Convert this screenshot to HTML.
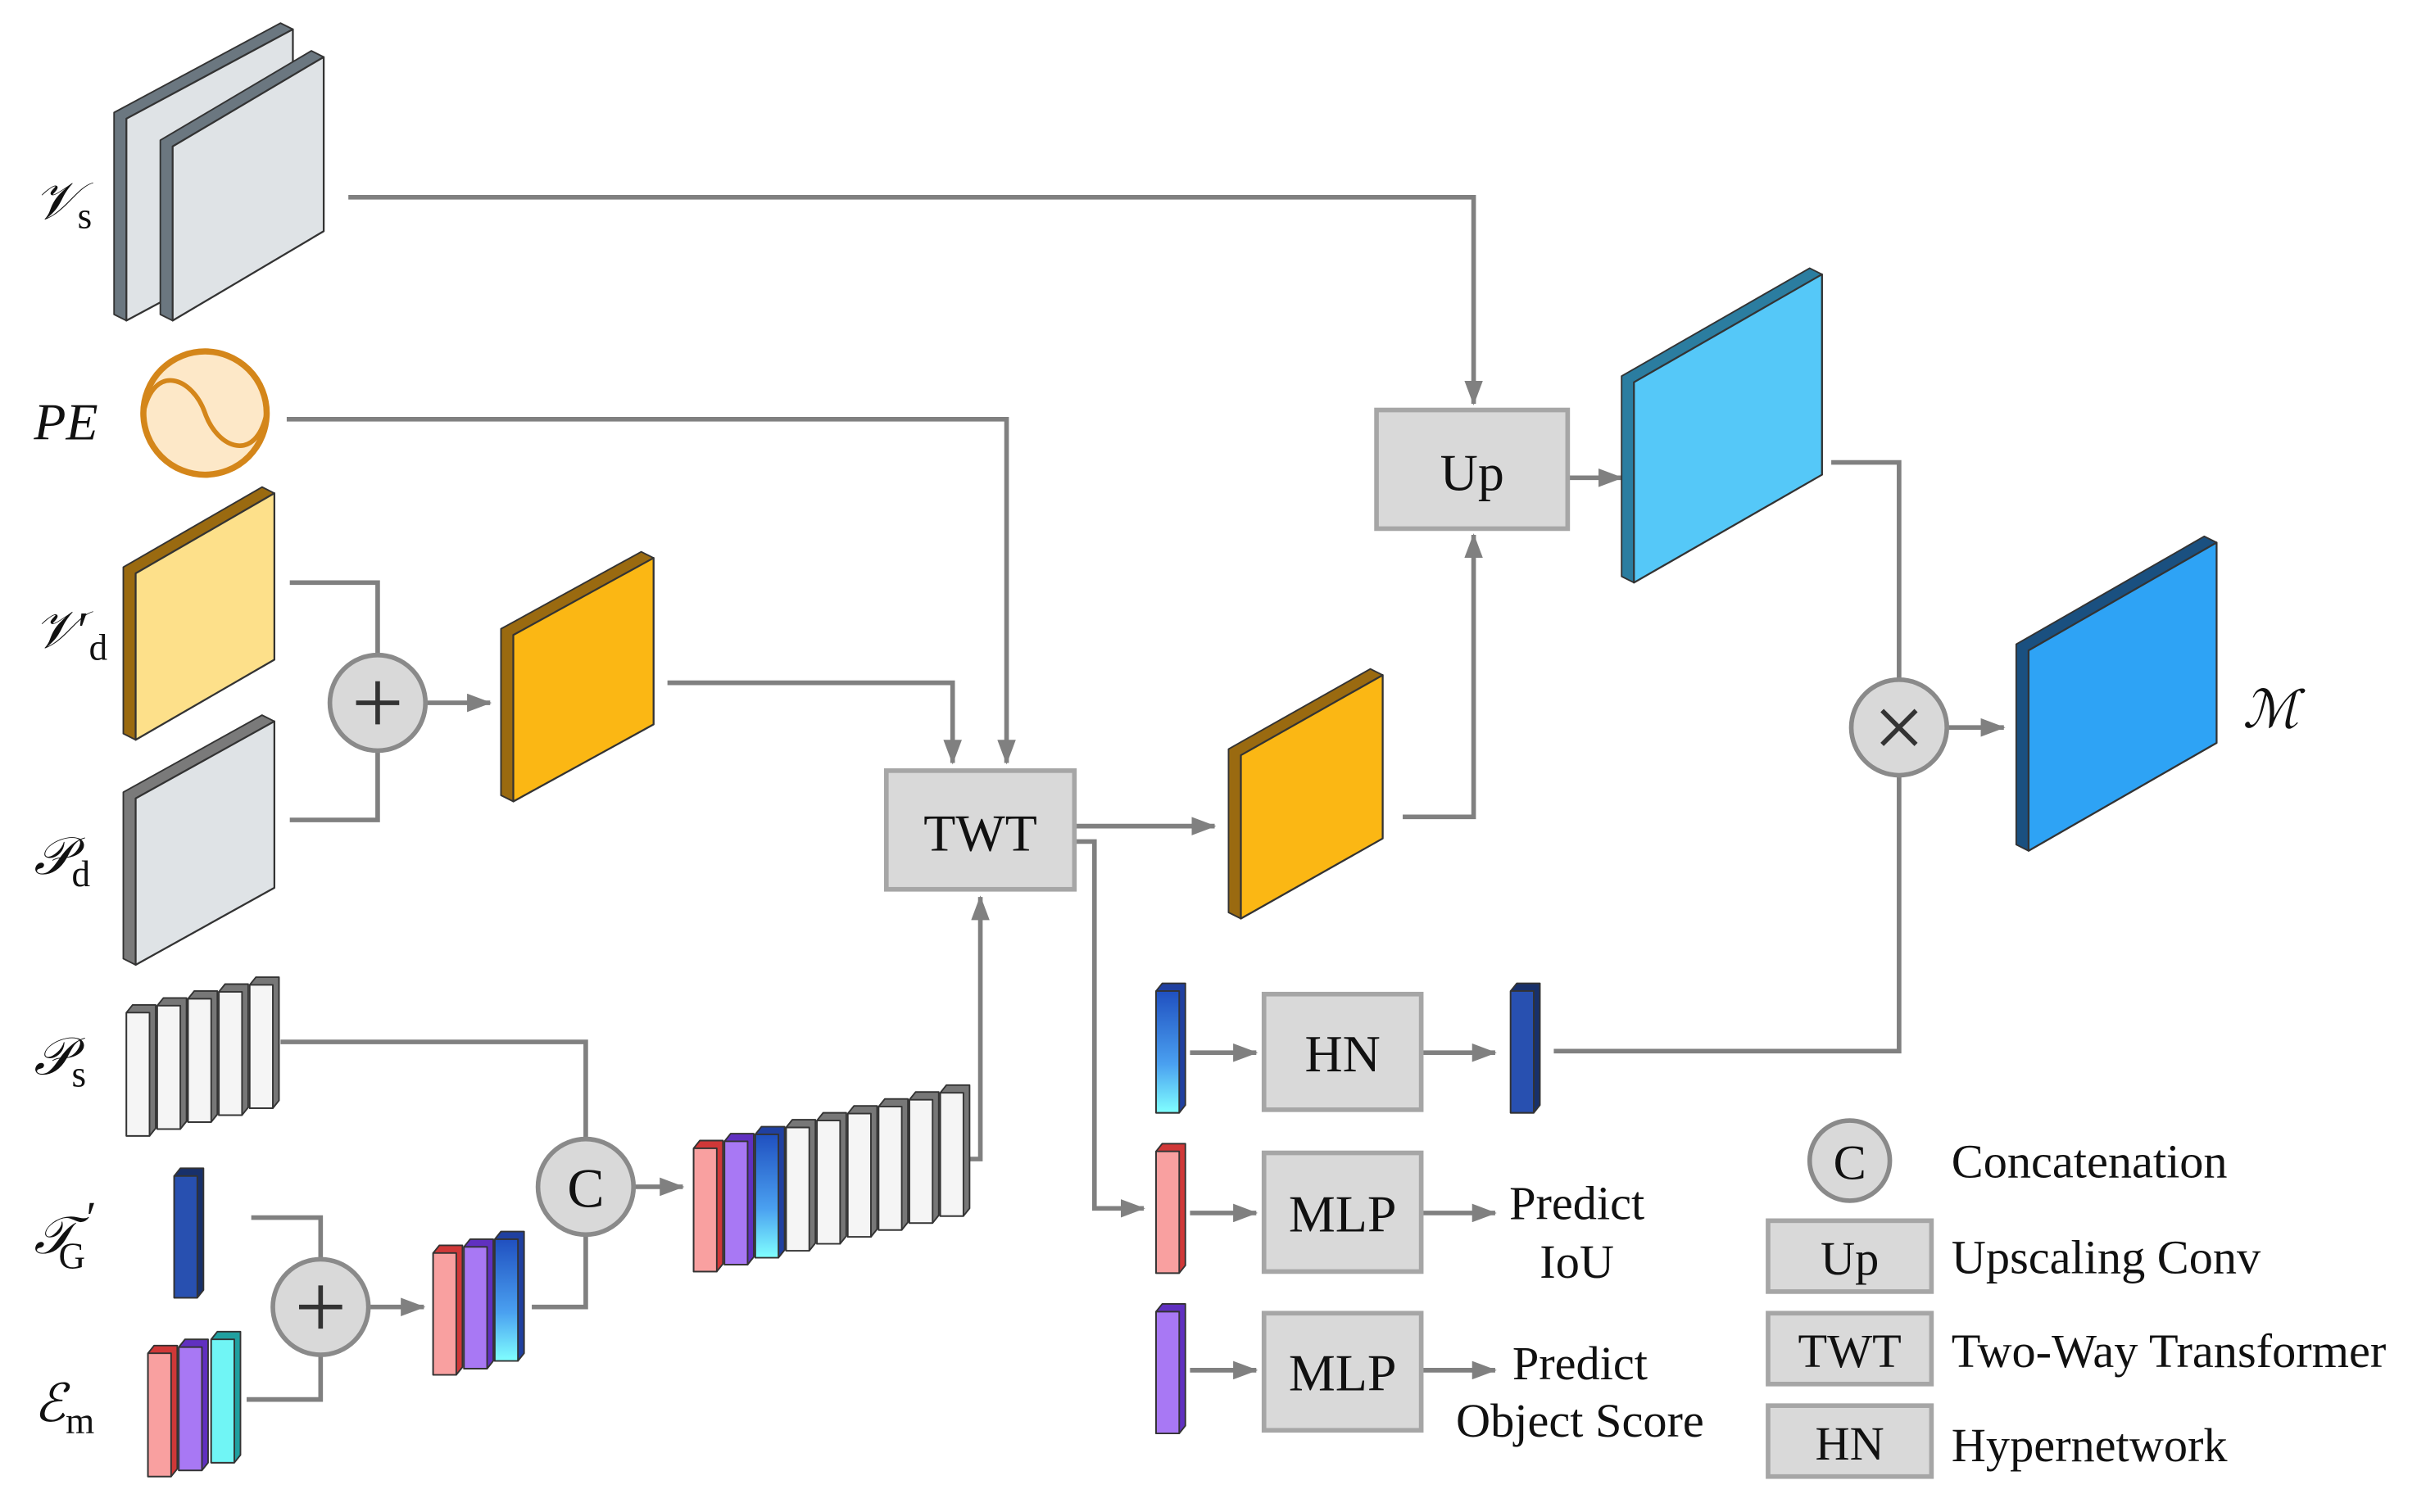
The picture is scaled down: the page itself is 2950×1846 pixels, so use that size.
<!DOCTYPE html>
<html><head><meta charset="utf-8"><style>
html,body{margin:0;padding:0;background:#fff;}
svg{display:block;}
text{font-family:"Liberation Serif","DejaVu Serif",serif;fill:#111;}
.m{font-style:italic;font-size:34px;}
.sub{font-style:normal;font-size:24px;}
.bx{font-size:34px;}
.lg{font-size:31px;}
</style></head><body>
<svg id="s" width="2950" height="1846" viewBox="0 0 1568 981" preserveAspectRatio="none" xmlns="http://www.w3.org/2000/svg">
<defs>
<marker id="a" markerUnits="userSpaceOnUse" markerWidth="16" markerHeight="12" refX="15" refY="6" orient="auto"><path d="M0,0 L16,6 L0,12 Z" fill="#808080"/></marker>
<linearGradient id="gb" x1="0" y1="0" x2="0" y2="1"><stop offset="0" stop-color="#2050c0"/><stop offset="0.6" stop-color="#4aa0f0"/><stop offset="1" stop-color="#80ffff"/></linearGradient>
</defs>
<g id="lines" fill="none" stroke="#808080" stroke-width="3">
<polyline points="226,128 956,128 956,262" marker-end="url(#a)"/>
<polyline points="186,272 653,272 653,495" marker-end="url(#a)"/>
<polyline points="188,378 245,378 245,425"/>
<polyline points="188,532 245,532 245,487"/>
<polyline points="276,456 318,456" marker-end="url(#a)"/>
<polyline points="433,443 618,443 618,495" marker-end="url(#a)"/>
<polyline points="697,536 788,536" marker-end="url(#a)"/>
<polyline points="697,546 710,546 710,784 742,784" marker-end="url(#a)"/>
<polyline points="910,530 956,530 956,347" marker-end="url(#a)"/>
<polyline points="1017,310 1052,310" marker-end="url(#a)"/>
<polyline points="1188,300 1232,300 1232,441"/>
<polyline points="1264,472 1300,472" marker-end="url(#a)"/>
<polyline points="1008,682 1232,682 1232,503"/>
<polyline points="772,683 815,683" marker-end="url(#a)"/>
<polyline points="922,683 970,683" marker-end="url(#a)"/>
<polyline points="772,787 815,787" marker-end="url(#a)"/>
<polyline points="922,787 970,787" marker-end="url(#a)"/>
<polyline points="772,889 815,889" marker-end="url(#a)"/>
<polyline points="922,889 970,889" marker-end="url(#a)"/>
<polyline points="182,676 380,676 380,739"/>
<polyline points="163,790 208,790 208,817"/>
<polyline points="160,908 208,908 208,879"/>
<polyline points="240,848 275,848" marker-end="url(#a)"/>
<polyline points="345,848 380,848 380,801"/>
<polyline points="411,770 443,770" marker-end="url(#a)"/>
<polyline points="610,752 636,752 636,582" marker-end="url(#a)"/>
</g>
<g id="shapes"></g>
<g fill="#d9d9d9" stroke="#a6a6a6" stroke-width="3">
<rect x="893" y="266" width="124" height="77"/>
<rect x="575" y="500" width="122" height="77"/>
<rect x="820" y="645" width="102" height="75"/>
<rect x="820" y="748" width="102" height="77"/>
<rect x="820" y="852" width="102" height="76"/>
<rect x="1147" y="792" width="106" height="46"/>
<rect x="1147" y="852" width="106" height="46"/>
<rect x="1147" y="912" width="106" height="46"/>
</g>
<g fill="#d9d9d9" stroke="#8a8a8a" stroke-width="3">
<circle cx="245" cy="456" r="31"/>
<circle cx="208" cy="848" r="31"/>
<circle cx="380" cy="770" r="31"/>
<circle cx="1232" cy="472" r="31"/>
<circle cx="1200" cy="753" r="26"/>
</g>
<g stroke="#333" stroke-width="3">
<line x1="231" y1="456" x2="259" y2="456"/><line x1="245" y1="442" x2="245" y2="470"/>
<line x1="194" y1="848" x2="222" y2="848"/><line x1="208" y1="834" x2="208" y2="862"/>
<line x1="1221" y1="461" x2="1243" y2="483"/><line x1="1243" y1="461" x2="1221" y2="483"/>
</g>
<circle cx="133" cy="268" r="40" fill="#fde8c8" stroke="#d4861a" stroke-width="4"/>
<path d="M93,268 C100,235 125,245 133,268 C141,291 166,301 173,268" fill="none" stroke="#d4861a" stroke-width="3"/>
<text x="380" y="783" font-size="36" text-anchor="middle">C</text>
<text x="1200" y="765" font-size="32" text-anchor="middle">C</text>
<text class="bx" x="955" y="318" text-anchor="middle">Up</text>
<text class="bx" x="636" y="552" text-anchor="middle">TWT</text>
<text class="bx" x="871" y="695" text-anchor="middle">HN</text>
<text class="bx" x="871" y="799" text-anchor="middle">MLP</text>
<text class="bx" x="871" y="902" text-anchor="middle">MLP</text>
<text class="lg" x="1200" y="827" text-anchor="middle">Up</text>
<text class="lg" x="1200" y="887" text-anchor="middle">TWT</text>
<text class="lg" x="1200" y="947" text-anchor="middle">HN</text>
<text class="lg" x="1266" y="764">Concatenation</text>
<text class="lg" x="1266" y="826">Upscaling Conv</text>
<text class="lg" x="1266" y="887">Two-Way Transformer</text>
<text class="lg" x="1266" y="948">Hypernetwork</text>
<text class="lg" x="1023" y="791" text-anchor="middle">Predict</text>
<text class="lg" x="1023" y="829" text-anchor="middle">IoU</text>
<text class="lg" x="1025" y="895" text-anchor="middle">Predict</text>
<text class="lg" x="1025" y="932" text-anchor="middle">Object Score</text>
<text class="m" x="22" y="142">𝒱<tspan class="sub" dy="6">s</tspan></text>
<text class="m" x="22" y="285">PE</text>
<text class="m" x="22" y="420">𝒱<tspan style="font-style:normal">′</tspan><tspan class="sub" dy="8">d</tspan></text>
<text class="m" x="22" y="567">𝒫<tspan class="sub" dy="8">d</tspan></text>
<text class="m" x="22" y="697">𝒫<tspan class="sub" dy="8">s</tspan></text>
<text class="m" x="22" y="813">𝒯</text>
<text x="56" y="800" font-size="30">′</text>
<text class="sub" x="38" y="823">G</text>
<text class="m" x="22" y="922">ℰ<tspan class="sub" dy="8">m</tspan></text>
<text class="m" x="1455" y="472">ℳ</text>
</svg>
<script>
var g=document.getElementById('shapes'),NS='http://www.w3.org/2000/svg';
function poly(pts,fill,stroke,sw){var p=document.createElementNS(NS,'polygon');p.setAttribute('points',pts.map(function(q){return q.join(',')}).join(' '));p.setAttribute('fill',fill);p.setAttribute('stroke',stroke||'none');p.setAttribute('stroke-width',sw||1);p.setAttribute('stroke-linejoin','round');g.appendChild(p);}
function plate(L,R,T,s,H,f,e){var d=8,u=4;
poly([[L-d,T-u],[R-d,T-s-u],[R,T-s],[R,T-s+H],[L,T+H],[L-d,T+H-u]],e,'#333',1);
poly([[L,T],[R,T-s],[R,T-s+H],[L,T+H]],f,'#333',1.2);}
function bar(x,y,h,f,e){var w=15;
poly([[x,y+5],[x+4,y],[x+w+4,y],[x+w+4,y+h-5],[x+w,y+h],[x,y+h]],e,'#333',1);
poly([[x,y+5],[x+w,y+5],[x+w,y+h],[x,y+h]],f,'#333',1);}
plate(82,190,77,58,131,'#dfe3e6','#6b7780');
plate(112,210,95,58,113,'#dfe3e6','#6b7780');
plate(88,178,372,52,108,'#fde08a','#9a6a10');
plate(88,178,518,50,108,'#dfe3e6','#7a7a7a');
plate(333,424,412,50,108,'#fbb714','#9a6a10');
plate(805,897,490,52,106,'#fbb714','#9a6a10');
plate(1060,1182,248,70,130,'#55c8f8','#2b7da0');
plate(1316,1438,422,70,130,'#2ea3f5','#1a5080');
var W='#f5f5f5',WE='#777',R='#f9a0a0',RE='#d03838',P='#a878f4',PE='#6030c0',C='#70f5f5',CE='#20a0a0',B='url(#gb)',BE='#2040a0',DB='#2850b0',DBE='#18306a';
for(var i=0;i<5;i++)bar(82+i*20,652-i*4.5,85,W,WE);
bar(113,758,84,DB,DBE);
bar(96,873,85,R,RE);bar(116,869,85,P,PE);bar(137,864,85,C,CE);
bar(281,808,84,R,RE);bar(301,804,84,P,PE);bar(321,799,84,B,BE);
var cols=[[R,RE],[P,PE],[B,BE],[W,WE],[W,WE],[W,WE],[W,WE],[W,WE],[W,WE]];
for(var i=0;i<9;i++)bar(450+i*20,740-i*4.5,85,cols[i][0],cols[i][1]);
bar(750,638,84,B,BE);bar(980,638,84,DB,DBE);
bar(750,742,84,R,RE);bar(750,846,84,P,PE);
</script>
</body></html>
